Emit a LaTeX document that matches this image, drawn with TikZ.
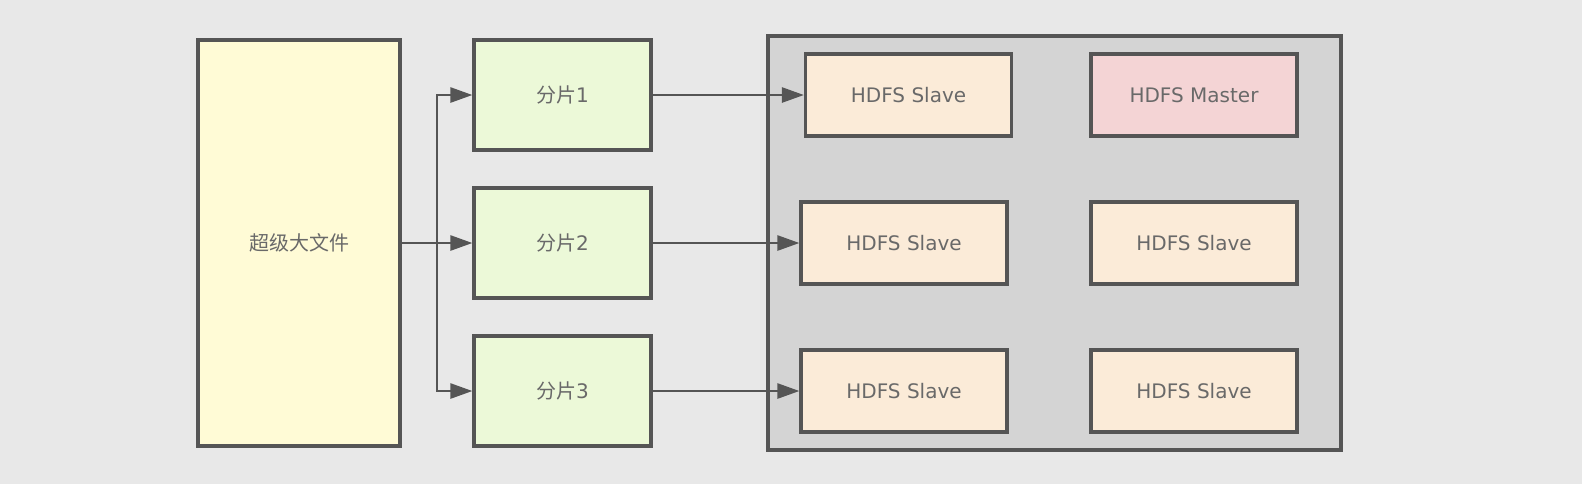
\documentclass[tikz,border=0pt]{standalone}
\usepackage{fontspec}
\setmainfont{DejaVu Sans}
\newfontfamily\cjk{Noto Sans CJK SC}
\usepackage{tikz}
\usetikzlibrary{arrows.meta,positioning,calc}
\definecolor{page}{RGB}{232,232,232}
\definecolor{edge}{RGB}{85,85,85}
\definecolor{label}{RGB}{105,105,105}
\definecolor{filefill}{RGB}{255,251,214}
\definecolor{shardfill}{RGB}{236,249,216}
\definecolor{slavefill}{RGB}{251,235,216}
\definecolor{masterfill}{RGB}{244,212,213}
\definecolor{clusterfill}{RGB}{212,212,212}

\begin{document}
\begin{tikzpicture}[x=0.5pt,y=-0.5pt,
  box/.style={draw=edge,line width=1.6pt,text=label,inner sep=0pt,
    font=\fontsize{10}{12}\selectfont},
  shardbox/.style={box,fill=shardfill,minimum width=88.5pt,minimum height=55pt},
  hdfsbox/.style={box,minimum width=103pt,minimum height=41pt},
  link/.style={draw=edge,line width=1.3pt,-{Triangle[length=11pt,width=7.5pt]}}]
\fill[page] (0,0) rectangle (1582,484);
\useasboundingbox (0,0) rectangle (1582,484);
\node[box,fill=filefill,minimum width=101pt,minimum height=203pt] (file) at (299,243) {\cjk 超级大文件};
\node[box,fill=clusterfill,minimum width=286.5pt,minimum height=207pt] (cluster) at (1054.5,243) {};
\foreach \i/\y in {1/95,2/243,3/391}
  \node[shardbox] (shard\i) at (562.5,\y) {{\cjk 分片}\i};
\node[hdfsbox,fill=slavefill] (slaveA) at (908.5,95) {HDFS Slave};
\node[hdfsbox,fill=masterfill] (master) at (1194,95) {HDFS Master};
\node[hdfsbox,fill=slavefill] (slaveB) at (904,243) {HDFS Slave};
\node[hdfsbox,fill=slavefill] (slaveC) at (904,391) {HDFS Slave};
\node[hdfsbox,fill=slavefill] (slaveD) at (1194,243) {HDFS Slave};
\node[hdfsbox,fill=slavefill] (slaveE) at (1194,391) {HDFS Slave};
\coordinate (split) at ($(file.east)!0.5!(shard2.west)$);
\draw[link] (file.east) -- (shard2.west);
\draw[link] (split) |- (shard1.west);
\draw[link] (split) |- (shard3.west);
\draw[link] (shard1.east) -- (slaveA.west);
\draw[link] (shard2.east) -- (slaveB.west);
\draw[link] (shard3.east) -- (slaveC.west);
\end{tikzpicture}
\end{document}
